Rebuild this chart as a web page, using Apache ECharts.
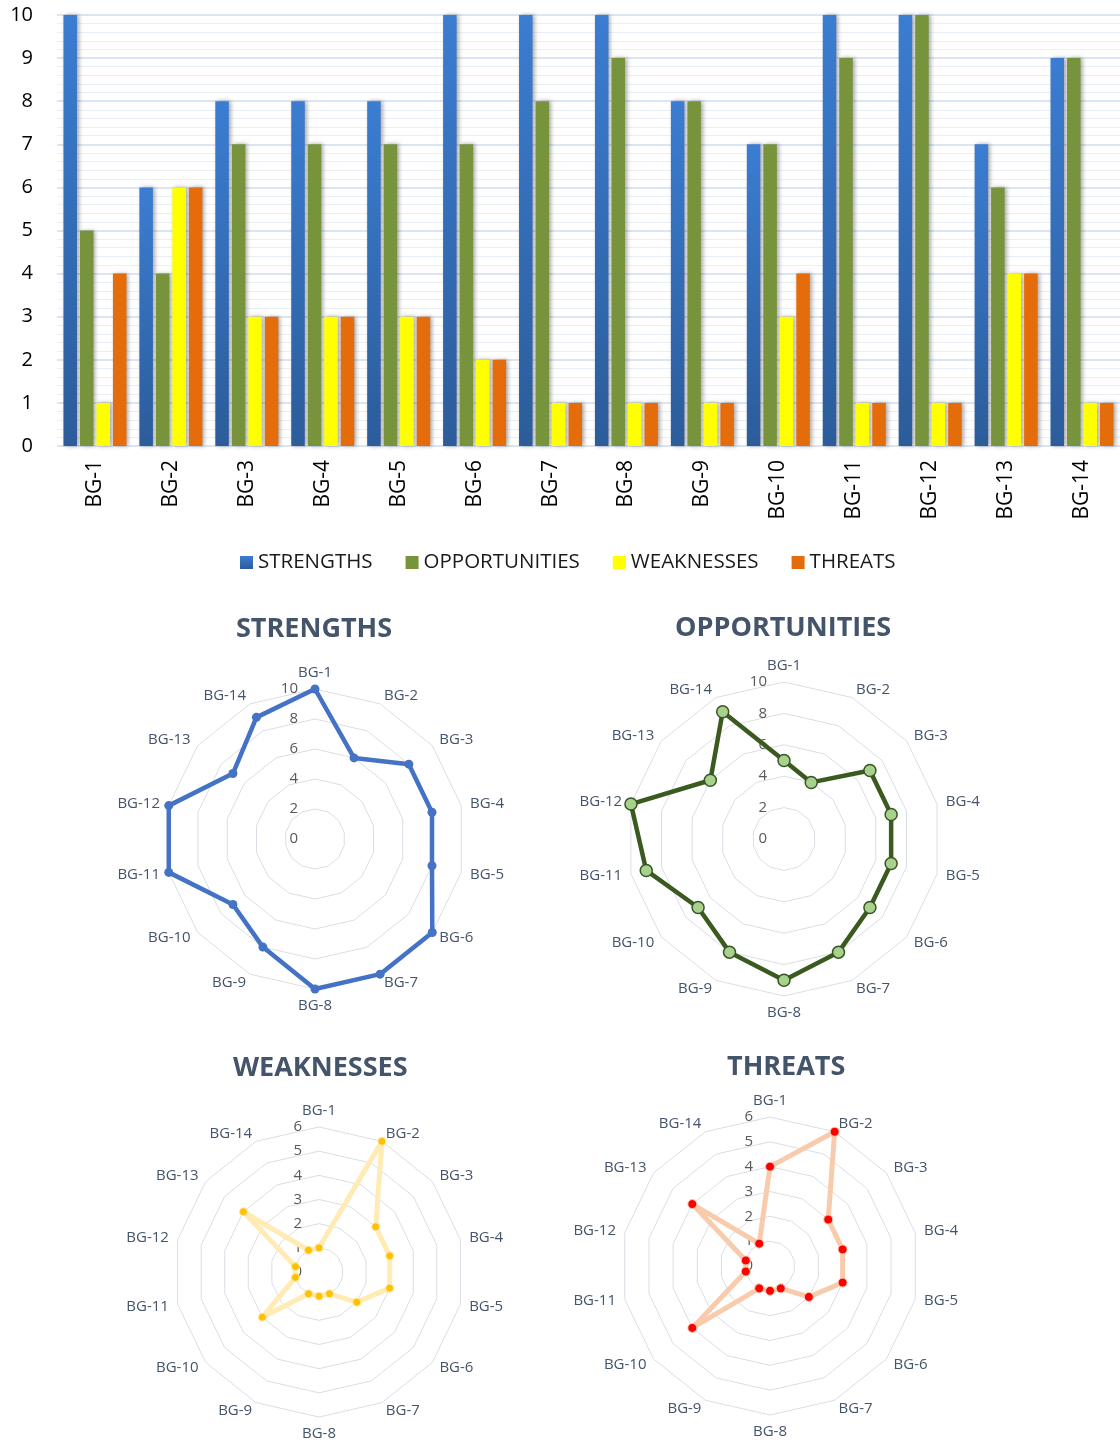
<!DOCTYPE html>
<html>
<head>
<meta charset="utf-8">
<script src="https://cdn.jsdelivr.net/npm/echarts@6/dist/echarts.min.js"></script>
<style>
html,body{margin:0;padding:0;background:#fff}
#main{width:1120px;height:1445px}
</style>
</head>
<body>
<div id="main"></div>
<script>
var categories = ['BG-1','BG-2','BG-3','BG-4','BG-5','BG-6','BG-7','BG-8','BG-9','BG-10','BG-11','BG-12','BG-13','BG-14'];
var strengths     = [10, 6, 8, 8, 8, 10, 10, 10, 8, 7, 10, 10, 7, 9];
var opportunities = [ 5, 4, 7, 7, 7,  7,  8,  9, 8, 7,  9, 10, 6, 9];
var weaknesses    = [ 1, 6, 3, 3, 3,  2,  1,  1, 1, 3,  1,  1, 4, 1];
var threats       = [ 4, 6, 3, 3, 3,  2,  1,  1, 1, 4,  1,  1, 4, 1];
var seriesNames = ['STRENGTHS','OPPORTUNITIES','WEAKNESSES','THREATS'];

window.onload = function () {
    var chart = echarts.init(document.getElementById('main'));
    var font = 'Open Sans';

    // radar goes counter-clockwise, reverse so BG-2 sits right of BG-1
    var order = [0];
    for (var i = categories.length - 1; i > 0; i--) order.push(i);

    function indicators(max) {
        return order.map(function (idx, k) {
            var o = {name: categories[idx], min: 0, max: max};
            if (k === 0) o.axisLabel = {show: true};
            return o;
        });
    }
    function ring(vals) {
        return order.map(function (idx) { return vals[idx]; });
    }
    function radar(center, radius, max, split) {
        return {
            center: center,
            radius: radius,
            startAngle: 90,
            shape: 'polygon',
            splitNumber: split,
            indicator: indicators(max),
            nameGap: 9,
            axisName: {color: '#44546A', fontSize: 15, fontFamily: font},
            axisLine: {show: false},
            axisTick: {show: false},
            axisLabel: {show: false, color: '#595959', fontSize: 15, fontFamily: font, margin: 17},
            splitLine: {lineStyle: {color: '#D9DDE5', width: 1}},
            splitArea: {show: false}
        };
    }
    function barStyle(c) {
        return {
            color: c,
            shadowColor: 'rgba(0,0,0,0.35)',
            shadowBlur: 4,
            shadowOffsetX: 2
        };
    }

    var titleStyle = {fontSize: 27, fontWeight: 'bold', color: '#44546A', fontFamily: font};

    var option = {
        animation: false,
        title: [
            {text: 'STRENGTHS', left: 236, top: 616, padding: 0, textStyle: titleStyle},
            {text: 'OPPORTUNITIES', left: 675, top: 615, padding: 0, textStyle: titleStyle},
            {text: 'WEAKNESSES', left: 233, top: 1055, padding: 0, textStyle: titleStyle},
            {text: 'THREATS', left: 727, top: 1054, padding: 0, textStyle: titleStyle}
        ],
        legend: {
            data: seriesNames,
            left: 235,
            top: 547,
            icon: 'rect',
            itemWidth: 13,
            itemHeight: 13,
            itemGap: 33,
            textStyle: {fontSize: 20.5, color: '#1a1a1a', fontFamily: font}
        },
        grid: {left: 57, right: 0, top: 15, bottom: 999},
        xAxis: {
            type: 'category',
            data: categories,
            axisLine: {show: false},
            axisTick: {show: false},
            axisLabel: {rotate: 90, fontSize: 21, color: '#000', fontFamily: font, margin: 14}
        },
        yAxis: {
            type: 'value',
            min: 0,
            max: 10,
            interval: 1,
            axisLabel: {fontSize: 20, color: '#000', fontFamily: font, margin: 24},
            splitLine: {lineStyle: {color: '#CFDDEF', width: 1.5}},
            minorTick: {show: false, splitNumber: 5},
            minorSplitLine: {show: true, lineStyle: {color: '#EAF0F8', width: 1}}
        },
        radar: [
            radar([315, 839], 150, 10, 5),
            radar([784, 839], 157, 10, 5),
            radar([319, 1272], 145, 6, 6),
            radar([770, 1266], 149, 6, 6)
        ],
        series: [
            {
                name: 'STRENGTHS', type: 'bar', data: strengths,
                barCategoryGap: '17%', barGap: '22%',
                itemStyle: barStyle(new echarts.graphic.LinearGradient(0, 0, 0, 1, [
                    {offset: 0, color: '#3B7DD2'}, {offset: 1, color: '#2C5C9A'}]))
            },
            {name: 'OPPORTUNITIES', type: 'bar', data: opportunities, itemStyle: barStyle('#77933C')},
            {name: 'WEAKNESSES', type: 'bar', data: weaknesses, itemStyle: barStyle('#FFFF00')},
            {name: 'THREATS', type: 'bar', data: threats, itemStyle: barStyle('#E46C0A')},
            {
                type: 'radar', radarIndex: 0, symbol: 'circle', symbolSize: 9,
                lineStyle: {color: '#4472C4', width: 4.5},
                itemStyle: {color: '#4472C4'},
                data: [{value: ring(strengths)}]
            },
            {
                type: 'radar', radarIndex: 1, symbol: 'circle', symbolSize: 12,
                lineStyle: {color: '#3A5A1F', width: 4.5},
                itemStyle: {color: '#A9D18E', borderColor: '#375623', borderWidth: 1.5},
                data: [{value: ring(opportunities)}]
            },
            {
                type: 'radar', radarIndex: 2, symbol: 'circle', symbolSize: 8,
                lineStyle: {color: '#FFEBB3', width: 5},
                itemStyle: {color: '#FFC000', borderColor: '#FFE9A8', borderWidth: 1},
                data: [{value: ring(weaknesses)}]
            },
            {
                type: 'radar', radarIndex: 3, symbol: 'circle', symbolSize: 9,
                lineStyle: {color: '#F8CBAD', width: 5},
                itemStyle: {color: '#FF0000', borderColor: '#F8CBAD', borderWidth: 1},
                data: [{value: ring(threats)}]
            }
        ]
    };

    chart.setOption(option);
};
</script>
</body>
</html>
